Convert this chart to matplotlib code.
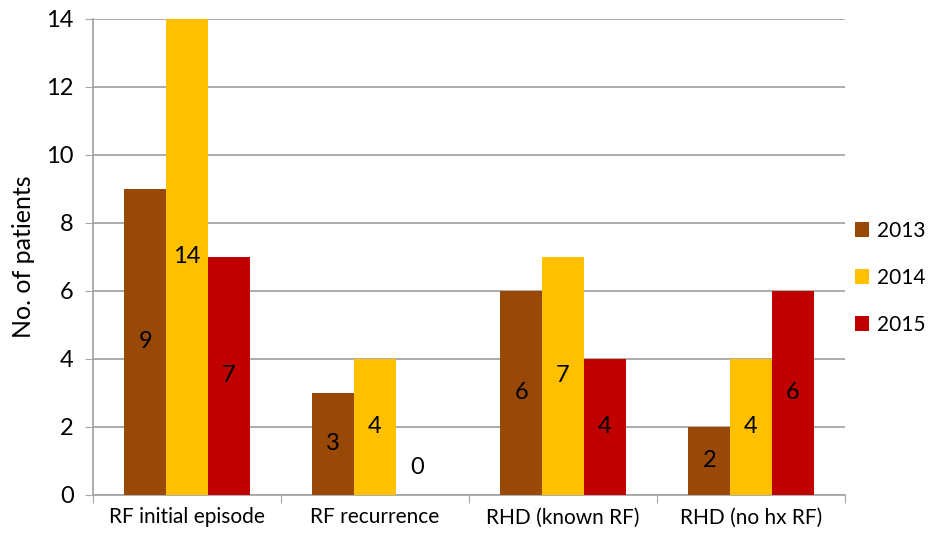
import numpy as np
import matplotlib.pyplot as plt

categories = ['RF initial episode', 'RF recurrence', 'RHD (known RF)', 'RHD (no hx RF)']
years = ['2013', '2014', '2015']
counts_2013 = [9, 3, 6, 2]
counts_2014 = [14, 4, 7, 4]
counts_2015 = [7, 0, 4, 6]

colors = ['#984807', '#FFC000', '#C00000']
grid_color = '#A6A6A6'

plt.rcParams['font.family'] = ['Lato', 'DejaVu Sans']

fig = plt.figure(figsize=(9.3, 5.36), dpi=100)
ax = fig.add_axes([0.1, 0.0765, 0.8086, 0.8881])

x = np.arange(len(categories))
width = 1 / 4.5
series = [counts_2013, counts_2014, counts_2015]
for k, (vals, col, yr) in enumerate(zip(series, colors, years)):
    pos = x + (k - 1) * width
    ax.bar(pos, vals, width, color=col, label=yr, zorder=3)
    for px, v in zip(pos, vals):
        ypos = v / 2 if v > 0 else 0.8
        ax.text(px, ypos, str(v), ha='center', va='center', fontsize=17, zorder=4)

ax.set_xlim(-0.5, len(categories) - 0.5)
ax.set_ylim(0, 14)
ax.set_yticks(np.arange(0, 15, 2))
ax.set_xticks(np.arange(-0.5, len(categories), 1))
ax.set_xticklabels([])
ax.set_xticks(x, minor=True)
ax.set_xticklabels(categories, minor=True, fontsize=15)
ax.tick_params(axis='x', which='minor', length=0, pad=9)
ax.tick_params(axis='x', which='major', length=6, color=grid_color, direction='out')
ax.tick_params(axis='y', length=6, color=grid_color, direction='out', labelsize=17, pad=8)

ax.grid(axis='y', color=grid_color, linewidth=1.3, zorder=0)
for side in ['top', 'right']:
    ax.spines[side].set_visible(False)
for side in ['left', 'bottom']:
    ax.spines[side].set_color(grid_color)
    ax.spines[side].set_linewidth(1.3)

ax.set_ylabel('No. of patients', fontsize=18, labelpad=8)

ax.legend(loc='center left', bbox_to_anchor=(1.013, 0.456), frameon=False, fontsize=15,
          handlelength=0.7, handleheight=0.7, handletextpad=0.35, labelspacing=1.3,
          borderaxespad=0, borderpad=0)

fig.savefig('out.png', dpi=100)
